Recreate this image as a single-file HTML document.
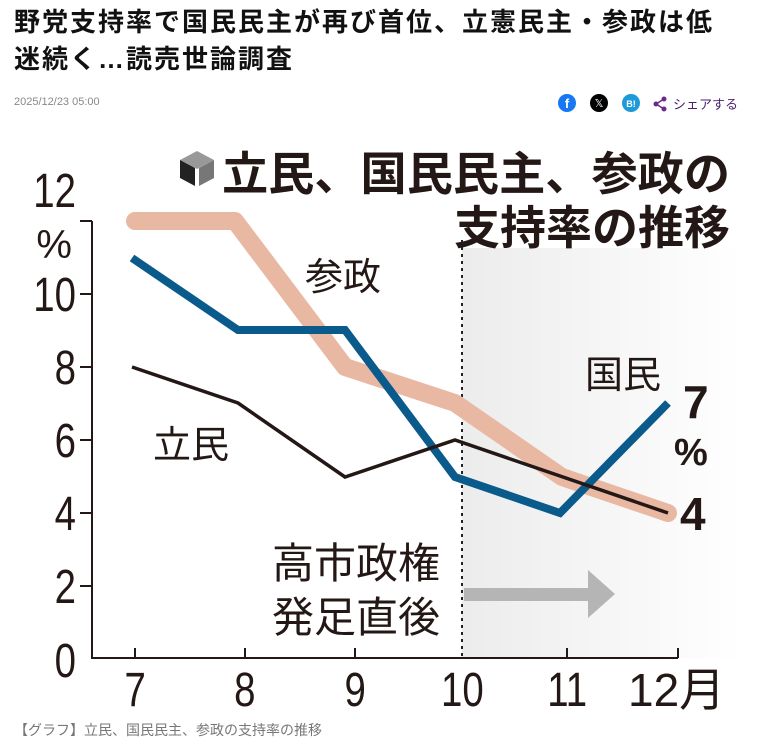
<!DOCTYPE html>
<html><head><meta charset="utf-8"><style>
body{margin:0;background:#fff;width:770px;height:744px;overflow:hidden;font-family:"Liberation Sans","Noto Sans CJK JP",sans-serif}
.h{position:absolute;left:14px;top:4px;font-size:26px;font-weight:bold;line-height:37px;color:#111;letter-spacing:2px}
.d{position:absolute;left:14px;top:96px;font-size:11px;color:#888}
.c{position:absolute;left:14px;top:720px;font-size:14px;color:#777}
</style></head><body>
<div class="h">野党支持率で国民民主が再び首位、立憲民主・参政は低<br>迷続く…読売世論調査</div>
<div class="d">2025/12/23 05:00</div>
<svg style="position:absolute;left:0;top:0" width="770" height="744" font-family="Liberation Sans, Noto Sans CJK JP, sans-serif">
<defs><linearGradient id="g" x1="0" x2="1"><stop offset="0" stop-color="#ececec"/><stop offset="1" stop-color="#fff"/></linearGradient></defs>
<circle cx="567" cy="103" r="9" fill="#1877f2"/><text x="567" y="108" font-size="13" fill="#fff" text-anchor="middle" font-weight="bold">f</text>
<circle cx="599" cy="103" r="9" fill="#000"/><text x="599" y="107" font-size="11" fill="#fff" text-anchor="middle">𝕏</text>
<circle cx="631" cy="103" r="9" fill="#1d9bd8"/><text x="631" y="107" font-size="9" fill="#fff" text-anchor="middle" font-weight="bold">B!</text>
<g fill="#6a2b8a"><circle cx="664" cy="99" r="2.5"/><circle cx="656" cy="104" r="2.5"/><circle cx="664" cy="109" r="2.5"/></g>
<path d="M664 99L656 104L664 109" stroke="#6a2b8a" fill="none" stroke-width="1.5"/>
<text x="673" y="109" font-size="13" fill="#4b1f6b">シェアする</text>
<rect x="462" y="150" width="280" height="508" fill="url(#g)"/>
<rect x="420" y="148" width="320" height="100" fill="#fff"/>
<path d="M180 160l17-9 17 9-17 9z" fill="#999"/><path d="M180 160v18l15 8v-18z" fill="#222"/><path d="M214 160v18l-15 8v-18z" fill="#777"/>
<text x="222" y="190" font-size="46" font-weight="bold" fill="#231815" textLength="508" lengthAdjust="spacingAndGlyphs">立民、国民民主、参政の</text>
<text x="730" y="244" font-size="46" font-weight="bold" fill="#231815" text-anchor="end">支持率の推移</text>
<line x1="462" y1="240" x2="462" y2="658" stroke="#222" stroke-width="2" stroke-dasharray="3,4"/>
<g stroke="#231815" stroke-width="2" fill="none">
<path d="M92 221V658H678"/>
<path d="M80 221H92M80 294H92M80 367H92M80 440H92M80 513H92M80 586H92"/>
<path d="M135 658v-10M245 658v-10M355 658v-10M567 658v-10M678 658v-10"/>
</g>
<g font-size="48" fill="#231815" text-anchor="end" transform="scale(0.8,1)">
<text x="95" y="207">12</text><text x="95" y="311">10</text><text x="95" y="384">8</text><text x="95" y="457">6</text><text x="95" y="530">4</text><text x="95" y="603">2</text><text x="95" y="677">0</text>
</g>
<text x="72" y="258" font-size="40" fill="#231815" text-anchor="end">%</text>
<g font-size="48" fill="#231815" text-anchor="middle" transform="scale(0.8,1)">
<text x="169" y="706">7</text><text x="306" y="706">8</text><text x="444" y="706">9</text><text x="578" y="706">10</text><text x="709" y="706">11</text>
</g>
<text x="628" y="706" font-size="46" fill="#231815">12月</text>
<path d="M135 221L235 221L345 367L455 403L562 477L668 513" stroke="#e9b8a2" stroke-width="18" fill="none" stroke-linecap="round" stroke-linejoin="round"/>
<path d="M132 258L238 330L345 330L455 477L560 513L668 403" stroke="#0a5a8c" stroke-width="8" fill="none" stroke-linejoin="miter"/>
<path d="M132 367L238 403L345 477L455 440L668 513" stroke="#231815" stroke-width="3.5" fill="none"/>
<rect x="464" y="588" width="126" height="13" fill="#b5b5b5"/>
<path d="M588 570L615 594L588 618z" fill="#b5b5b5"/>
<g font-size="38" fill="#231815">
<text x="305" y="290">参政</text><text x="153" y="458">立民</text><text x="585" y="388">国民</text>
<text x="272" y="578" font-size="42">高市政権</text><text x="272" y="632" font-size="42">発足直後</text>
</g>
<g font-weight="bold" fill="#231815">
<text x="683" y="418" font-size="46">7</text><text x="674" y="465" font-size="38">%</text><text x="680" y="530" font-size="46">4</text>
</g>
</svg>
<div class="c">【グラフ】立民、国民民主、参政の支持率の推移</div>
</body></html>
